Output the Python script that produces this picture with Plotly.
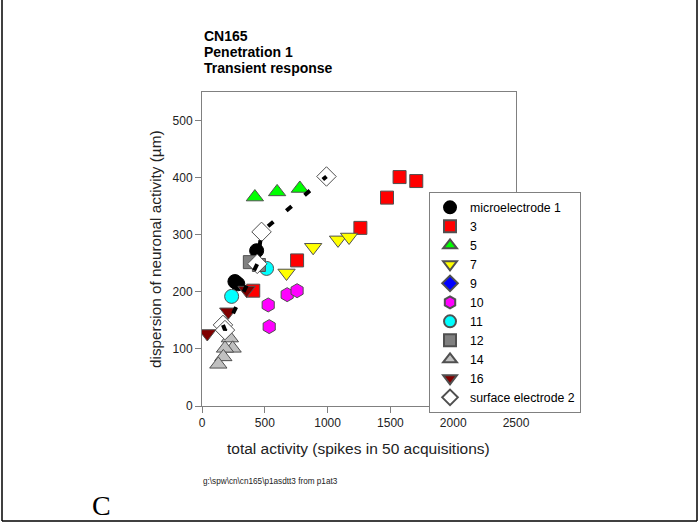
import plotly.graph_objects as go

# ---- data ----
micro1_x = [262, 285, 435]
micro1_y = [218, 214, 272]
s3_x = [408, 757, 1261, 1473, 1573, 1706]
s3_y = [202, 255, 312, 365, 401, 394]
s5_x = [421, 598, 779]
s5_y = [366, 375, 381]
s7_x = [673, 885, 1083, 1171]
s7_y = [233, 278, 291, 296]
s9_x = [None]
s9_y = [None]
s10_x = [527, 535, 678, 757]
s10_y = [177, 139, 195, 202]
s11_x = [236, 514]
s11_y = [192, 241]
s12_x = [381, 453]
s12_y = [252, 247]
s14_x = [222, 244, 183, 170, 130]
s14_y = [119, 101, 101, 86, 73]
s16_x = [42, 209, 355]
s16_y = [127, 165, 203]
surf2_x = [167, 183, 440, 474, 991]
surf2_y = [142, 133, 249, 305, 402]

FONT = "Liberation Sans, Arial, sans-serif"
EDGE = "#505050"

series = [
    ("microelectrode 1", micro1_x, micro1_y, "circle", "#000000", 14, "#000000"),
    ("3", s3_x, s3_y, "square", "#ff0000", 13, EDGE),
    ("5", s5_x, s5_y, "triangle-up", "#00ff00", 15, EDGE),
    ("7", s7_x, s7_y, "triangle-down", "#ffff00", 15, EDGE),
    ("9", s9_x, s9_y, "diamond", "#0000ff", 15, EDGE),
    ("10", s10_x, s10_y, "hexagon", "#ff00ff", 14, EDGE),
    ("11", s11_x, s11_y, "circle", "#00ffff", 14, EDGE),
    ("12", s12_x, s12_y, "square", "#808080", 13, EDGE),
    ("14", s14_x, s14_y, "triangle-up", "#c0c0c0", 15, EDGE),
    ("16", s16_x, s16_y, "triangle-down", "#800000", 15, EDGE),
    ("surface electrode 2", surf2_x, surf2_y, "diamond", "#ffffff", 15, EDGE),
]

fig = go.Figure()
for name, xs, ys, sym, col, sz, lc in series:
    fig.add_trace(go.Scatter(
        x=xs, y=ys, mode="markers", name=name,
        marker=dict(symbol=sym, size=sz, color=col, line=dict(color=lc, width=1)),
    ))

# dashed connecting line for surface electrode 2
fig.add_trace(go.Scatter(
    x=surf2_x, y=surf2_y, mode="lines", showlegend=False,
    line=dict(color="#000000", width=4, dash="7px,17px"),
))

axis_common = dict(
    showline=True, linecolor="#808080", linewidth=1, mirror=True,
    ticks="outside", ticklen=6, tickcolor="#808080",
    showgrid=False, zeroline=False,
    tickfont=dict(family=FONT, size=12, color="#222222"),
)

fig.update_layout(
    width=699, height=525,
    margin=dict(l=202, r=183, t=92, b=119, autoexpand=False),
    paper_bgcolor="white", plot_bgcolor="white",
    font=dict(family=FONT, color="#000000"),
    xaxis=dict(range=[0, 2500], tickvals=[0, 500, 1000, 1500, 2000, 2500], **axis_common),
    yaxis=dict(range=[0, 550], tickvals=[0, 100, 200, 300, 400, 500], **axis_common),
    legend=dict(
        x=0.723, y=0.682, xanchor="left", yanchor="top",
        bgcolor="white", bordercolor="#808080", borderwidth=1,
        font=dict(family=FONT, size=12.3, color="#000000"),
        itemsizing="constant", tracegroupgap=0,
    ),
    showlegend=True,
)

W, H = 314.0, 314.0
def px(xp):
    return (xp - 202) / W
def py(yp):
    return (406 - yp) / H

annotations = [
    dict(text="<b>CN165</b>", x=px(202), y=py(36)),
    dict(text="<b>Penetration 1</b>", x=px(202), y=py(52)),
    dict(text="<b>Transient response</b>", x=px(202), y=py(68)),
]
for a in annotations:
    a.update(xref="paper", yref="paper", xanchor="left", yanchor="middle",
             showarrow=False, font=dict(family=FONT, size=14, color="#000000"))

annotations += [
    dict(text="total activity (spikes in 50 acquisitions)", x=px(358), y=py(448),
         xref="paper", yref="paper", xanchor="center", yanchor="middle", showarrow=False,
         font=dict(family=FONT, size=15.5, color="#222222")),
    dict(text="dispersion of neuronal activity (µm)", x=px(155), y=py(249),
         xref="paper", yref="paper", xanchor="center", yanchor="middle", showarrow=False,
         textangle=-90, font=dict(family=FONT, size=15.3, color="#222222")),
    dict(text="g:\\spw\\cn\\cn165\\p1asdtt3 from p1at3", x=px(201), y=py(481),
         xref="paper", yref="paper", xanchor="left", yanchor="middle", showarrow=False,
         font=dict(family=FONT, size=8.2, color="#222222")),
    dict(text="C", x=px(101), y=py(505),
         xref="paper", yref="paper", xanchor="center", yanchor="middle", showarrow=False,
         font=dict(family="Liberation Serif, Times New Roman, serif", size=28, color="#000000")),
]
fig.update_layout(annotations=annotations)

# slide frame lines
for x0, y0, x1, y1 in [(2, 0, 2, 521), (697, 0, 697, 521), (2, 521, 697, 521)]:
    fig.add_shape(type="line", xref="paper", yref="paper",
                  x0=px(x0), y0=py(y0), x1=px(x1), y1=py(y1),
                  line=dict(color="#000000", width=1.5))

fig.write_html("out.html", config={"displayModeBar": False},
               post_script="document.body.style.margin='0';document.body.style.overflow='hidden';")
